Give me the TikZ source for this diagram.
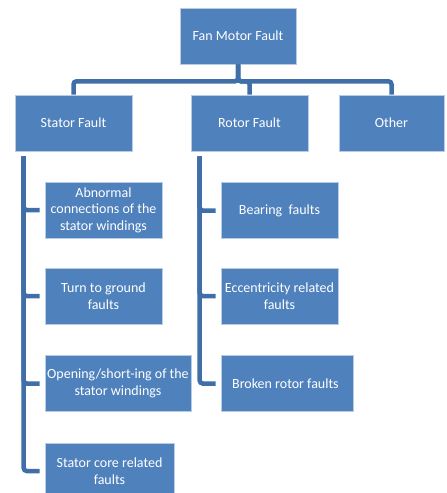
\documentclass[tikz,border=0pt]{standalone}
\usepackage{fontspec}
\setmainfont{Carlito}
\usepackage{xcolor}
\definecolor{FaultBlue}{HTML}{4F81BD}
\definecolor{FaultEdge}{HTML}{B8CCE4}
\definecolor{FaultLine}{HTML}{3F6EA8}
\tikzset{
  faultbox/.style={draw=FaultEdge,line width=0.6pt,fill=FaultBlue,text=white,
    minimum height=56pt,inner sep=0pt,align=center,
    font=\fontsize{14}{16.5}\selectfont},
  faultline/.style={FaultLine,line width=4.5pt,rounded corners=3pt}
}
\begin{document}
\begin{tikzpicture}[x=1pt,y=-1pt]
        \useasboundingbox (0,0) rectangle (447,493);

        \node[faultbox,minimum width=116pt] (fmf) at (238,36) {Fan Motor Fault};

        \node[faultbox,minimum width=117pt] (stator) at (73.5,123) {Stator Fault};
        \node[faultbox,minimum width=117pt] (rotor) at (249.5,123) {Rotor Fault};
        \node[faultbox,minimum width=105pt] (other) at (391.5,123) {Other};

        \foreach \name/\x/\y/\w/\txt in {
          abn/103.5/210/117/{Abnormal\\connections of the\\stator windings},
          turn/103.5/296/117/{Turn to ground\\faults},
          open/118/383.5/146/{Opening/short-ing of the\\stator windings},
          core/109.5/471/129/{Stator core related\\faults},
          bear/279.5/210.5/117/{Bearing\ \ faults},
          ecc/279.5/296/117/{Eccentricity related\\faults},
          broken/287/383.5/132/{Broken rotor faults}
        }{
          \node[faultbox,minimum width=\w pt] (\name) at (\x,\y) {\txt};
        }

        % top level
        \draw[faultline] (fmf.south) -- ++(0,17) -| (stator.north);
        \draw[faultline] (fmf.south) -- ++(0,17) -| (rotor.north);
        \draw[faultline] (fmf.south) -- ++(0,17) -| (other.north);

        % stator branch
        \foreach \child in {abn,turn,open,core}{
          \draw[faultline,shorten >=5pt]
            ([xshift=9pt,yshift=-5pt]stator.south west) |- (\child.west);
        }

        % rotor branch
        \foreach \child in {bear,ecc,broken}{
          \draw[faultline,shorten >=5pt]
            ([xshift=9pt,yshift=-5pt]rotor.south west) |- (\child.west);
        }
      \end{tikzpicture}
\end{document}
